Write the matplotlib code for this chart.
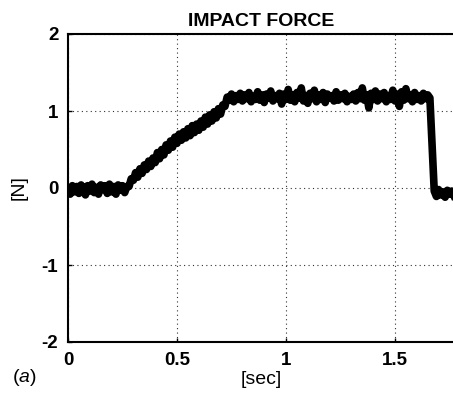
import numpy as np
import matplotlib
matplotlib.use("Agg")
import matplotlib.pyplot as plt

plt.rcParams['font.family'] = ['Liberation Sans', 'DejaVu Sans']
plt.rcParams['mathtext.fontset'] = 'custom'
plt.rcParams['mathtext.it'] = 'Liberation Sans:italic'
plt.rcParams['mathtext.rm'] = 'Liberation Sans'

# time in seconds (0.00 .. 1.77 step 0.01)
time_s = np.round(np.arange(0, 178) * 0.01, 2)

baseline = [-0.02, -0.08, 0.03, -0.05, 0.02, -0.07, 0.04, -0.03, -0.09, 0.03,
            -0.04, 0.05, -0.06, 0.01, -0.08, 0.04, -0.02, 0.03, -0.07, 0.05,
            -0.05, 0.02, -0.08, 0.04, -0.03, 0.03, -0.06, 0.02]
ramp = [0.02, 0.12, 0.10, 0.20, 0.14, 0.25, 0.19, 0.30, 0.24, 0.35,
        0.28, 0.39, 0.33, 0.46, 0.38, 0.50, 0.43, 0.56, 0.49, 0.61,
        0.53, 0.66, 0.58, 0.70, 0.62, 0.73, 0.65, 0.77, 0.68, 0.81,
        0.72, 0.83, 0.75, 0.87, 0.79, 0.92, 0.83, 0.95, 0.87, 0.99,
        0.91, 1.03, 0.96, 1.08, 1.06, 1.18]
plateau = [1.14, 1.22, 1.12, 1.20, 1.15, 1.23, 1.13, 1.21, 1.16, 1.24,
           1.12, 1.19, 1.15, 1.25, 1.14, 1.21, 1.11, 1.22, 1.17, 1.26,
           1.13, 1.20, 1.16, 1.23, 1.09, 1.22, 1.15, 1.28, 1.14, 1.21,
           1.12, 1.24, 1.17, 1.30, 1.13, 1.20, 1.10, 1.23, 1.16, 1.27,
           1.12, 1.21, 1.15, 1.24, 1.11, 1.22, 1.17, 1.20, 1.13, 1.25,
           1.14, 1.21, 1.16, 1.23, 1.12, 1.19, 1.15, 1.22, 1.13, 1.24,
           1.16, 1.30, 1.14, 1.21, 1.04, 1.23, 1.15, 1.26, 1.13, 1.22,
           1.16, 1.24, 1.12, 1.20, 1.15, 1.27, 1.13, 1.22, 1.06, 1.25,
           1.14, 1.29, 1.16, 1.21, 1.12, 1.24, 1.15, 1.20, 1.13, 1.23,
           1.16, 1.21, 1.17]
drop = [0.55]
after = [-0.04, -0.11, -0.02, -0.09, -0.05, -0.12, -0.03, -0.08, -0.04, -0.10]

force_n = np.array(baseline + ramp + plateau + drop + after)

x_ticks = [0, 0.5, 1, 1.5]
x_tick_labels = ["0", "0.5", "1", "1.5"]
y_ticks = [-2, -1, 0, 1, 2]
y_tick_labels = ["-2", "-1", "0", "1", "2"]

W, H = 453, 395
fig = plt.figure(figsize=(W / 100, H / 100), dpi=100)
ax = fig.add_axes([68 / W, 53 / H, 387 / W, 308 / H])

ax.plot(time_s, force_n, color='black', linewidth=5.5, solid_joinstyle='round')

ax.set_xlim(0, 387 / 218)
ax.set_ylim(-2, 2)
ax.set_xticks(x_ticks)
ax.set_xticklabels(x_tick_labels, fontweight='bold', fontsize=13.5)
ax.set_yticks(y_ticks)
ax.set_yticklabels(y_tick_labels, fontweight='bold', fontsize=13.5)
ax.tick_params(direction='in', length=3, width=1, pad=7)
ax.grid(True, linestyle=(0, (1, 3)), color='#333333', linewidth=0.8)

for s in ['left', 'top', 'bottom']:
    ax.spines[s].set_linewidth(1.5)
ax.spines['right'].set_visible(False)

ax.set_title("IMPACT FORCE", fontweight='bold', fontsize=14, pad=6)
ax.set_xlabel("[sec]", fontsize=14, labelpad=2)
ax.set_ylabel("[N]", fontsize=14, labelpad=10)

fig.text(12 / W, 1 - 378 / H, "($\\mathit{a}$)", fontsize=14, va='center', ha='left')

fig.savefig("out.png", dpi=100)
